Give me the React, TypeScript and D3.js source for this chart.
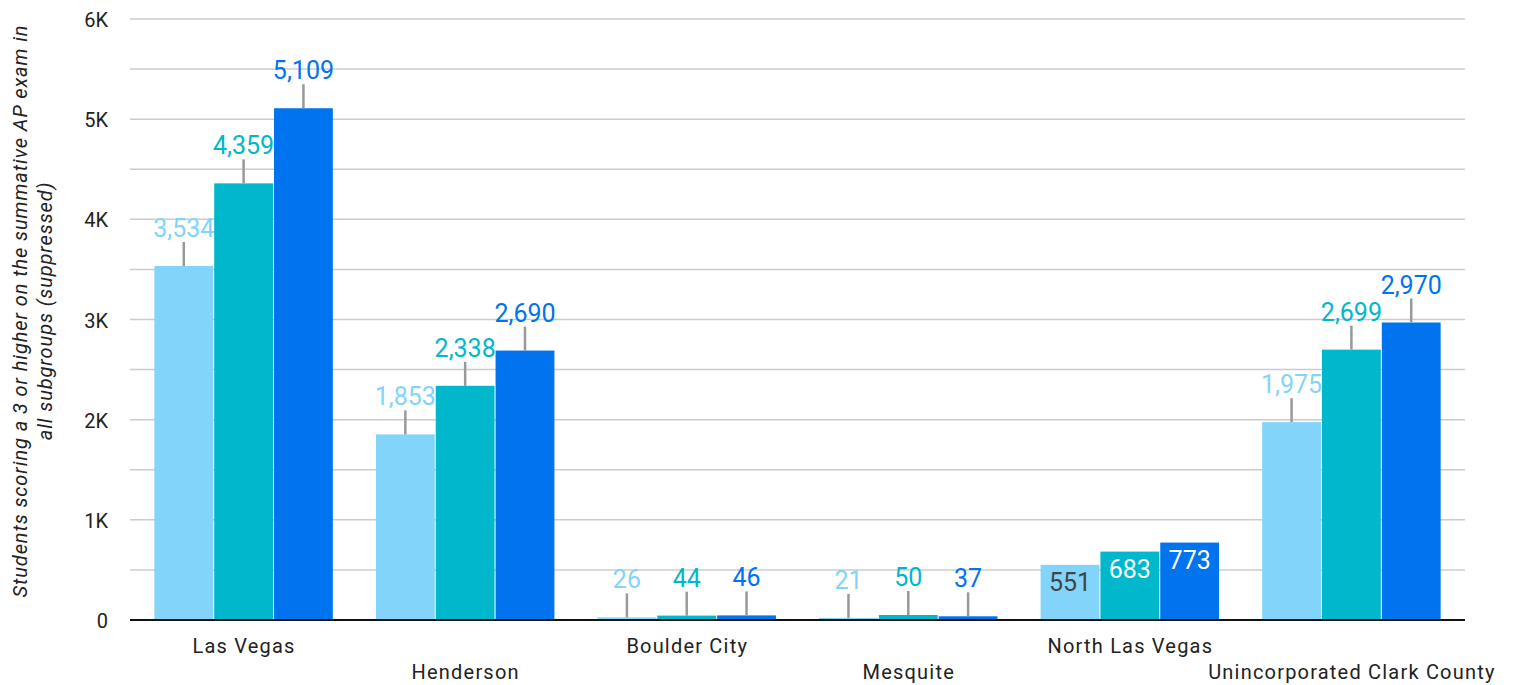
import React from "react";
import * as d3 from "d3";

const categories = ["Las Vegas", "Henderson", "Boulder City", "Mesquite", "North Las Vegas", "Unincorporated Clark County"];
const seriesA = [3534, 1853, 26, 21, 551, 1975];
const seriesB = [4359, 2338, 44, 50, 683, 2699];
const seriesC = [5109, 2690, 46, 37, 773, 2970];
const seriesNames = ["s1", "s2", "s3"];
const seriesColors = ["#82D4FA", "#00B7CB", "#0073EE"];
const insideLabelColors = ["#444444", "#FFFFFF", "#FFFFFF"];
const insideCategories = ["North Las Vegas"];
const yTicks = [0, 1000, 2000, 3000, 4000, 5000, 6000];
const yTickLabels = ["0", "1K", "2K", "3K", "4K", "5K", "6K"];
const gridValues = [500, 1000, 1500, 2000, 2500, 3000, 3500, 4000, 4500, 5000, 5500, 6000];

const W = 1515, H = 685;
const left = 130, right = 1466, top = 19, bottom = 620;

export default function App() {
  const y = d3.scaleLinear().domain([0, 6000]).range([bottom, top]);
  const x0 = d3.scaleBand().domain(categories).range([left, right]).paddingInner(0.19).paddingOuter(0.11);
  const x1 = d3.scaleBand().domain(seriesNames).range([0, x0.bandwidth()]).padding(0);
  const series = [seriesA, seriesB, seriesC];
  const fmt = d3.format(",");
  const errLen = 24;

  return (
    <svg width={W} height={H} style={{ position: "absolute", left: 0, top: 0, background: "#fff" }}>
      {gridValues.map((v) => (
        <line key={"g" + v} x1={left} x2={1465} y1={y(v)} y2={y(v)} stroke="#CCCCCC" strokeWidth={1.5} />
      ))}
      {yTicks.map((v, i) => (
        <text key={"t" + v} x={108} y={y(v) + 8} textAnchor="end" fontFamily="Roboto" fontSize={20} fill="#222">
          {yTickLabels[i]}
        </text>
      ))}
      <text transform={`translate(27,${311}) rotate(-90)`} textAnchor="middle" fontFamily="Roboto" fontStyle="italic" fontSize={20} letterSpacing={0.9} fill="#222">
        <tspan x={0} dy={0}>Students scoring a 3 or higher on the summative AP exam in</tspan>
        <tspan x={0} dy={25}>all subgroups (suppressed)</tspan>
      </text>
      {categories.map((c, ci) => {
        const gx = x0(c)!;
        const inside = insideCategories.includes(c);
        return (
          <g key={c}>
            {series.map((s, si) => {
              const bx = gx + x1(seriesNames[si])!;
              const bw = x1.bandwidth() - 1;
              const v = s[ci];
              const yt = y(v);
              const cx = bx + bw / 2;
              return (
                <g key={si}>
                  <rect x={bx} y={yt} width={bw} height={bottom - yt} fill={seriesColors[si]} />
                  {inside ? (
                    <text x={cx} y={yt + 26} textAnchor="middle" fontFamily="Roboto" fontSize={25} fill={insideLabelColors[si]}>
                      {fmt(v)}
                    </text>
                  ) : (
                    <>
                      <line x1={cx} x2={cx} y1={yt} y2={yt - errLen} stroke="#999999" strokeWidth={2.5} />
                      <text x={cx} y={yt - errLen - 5} textAnchor="middle" fontFamily="Roboto" fontSize={25} fill={seriesColors[si]}>
                        {fmt(v)}
                      </text>
                    </>
                  )}
                </g>
              );
            })}
            <text x={gx + x0.bandwidth() / 2} y={ci % 2 === 0 ? 653 : 679} textAnchor="middle" fontFamily="Roboto" fontSize={20} letterSpacing={1.2} fill="#222">
              {c}
            </text>
          </g>
        );
      })}
      <line x1={left} x2={1465} y1={bottom} y2={bottom} stroke="#111" strokeWidth={2} />
    </svg>
  );
}
